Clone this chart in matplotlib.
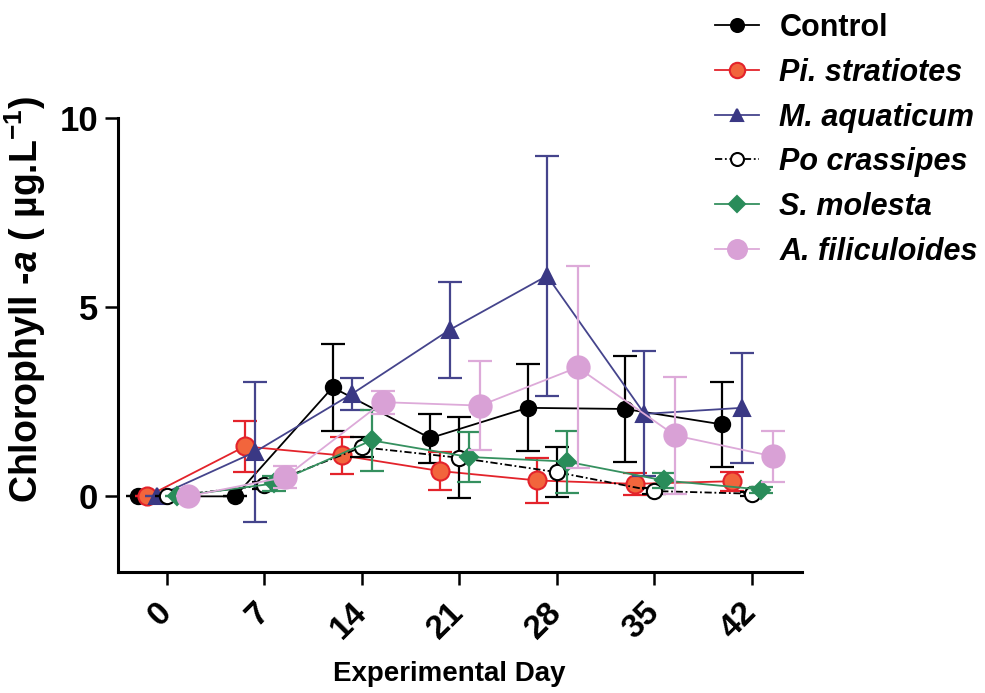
import matplotlib
matplotlib.use('Agg')
import matplotlib.pyplot as plt

# Chlorophyll-a over the experiment, one series per treatment
days = [0, 7, 14, 21, 28, 35, 42]
day_labels = ['0', '7', '14', '21', '28', '35', '42']

control = [0.0, 0.0, 2.88, 1.54, 2.34, 2.31, 1.90]
control_err = [0.0, 0.0, 1.15, 0.65, 1.15, 1.40, 1.13]

pi_strat = [0.0, 1.32, 1.08, 0.67, 0.42, 0.33, 0.40]
pi_strat_err = [0.0, 0.68, 0.48, 0.50, 0.60, 0.30, 0.25]

m_aqua = [0.0, 1.17, 2.71, 4.40, 5.83, 2.18, 2.34]
m_aqua_err = [0.0, 1.85, 0.42, 1.27, 3.17, 1.65, 1.45]

po_crass = [0.0, 0.29, 1.30, 1.02, 0.64, 0.14, 0.07]
po_crass_err = [0.0, 0.10, 0.26, 1.07, 0.67, 0.08, 0.05]

s_mol = [0.0, 0.34, 1.48, 1.04, 0.92, 0.42, 0.18]
s_mol_err = [0.0, 0.20, 0.80, 0.65, 0.82, 0.20, 0.08]

a_fili = [0.0, 0.51, 2.49, 2.40, 3.41, 1.61, 1.06]
a_fili_err = [0.0, 0.30, 0.30, 1.18, 2.67, 1.55, 0.67]

plt.rcParams['font.family'] = ['Liberation Sans', 'DejaVu Sans']
plt.rcParams['font.weight'] = 'bold'
plt.rcParams['mathtext.fontset'] = 'custom'
plt.rcParams['mathtext.rm'] = 'Liberation Sans:bold'
plt.rcParams['mathtext.it'] = 'Liberation Sans:italic:bold'
plt.rcParams['mathtext.bf'] = 'Liberation Sans:bold'

fig = plt.figure(figsize=(9.85, 6.93), dpi=100)
ax = fig.add_axes([0.12, 0.1746, 0.694, 0.655])

# (name, values, errors, x shift, marker, face, edge, line colour, linestyle, size)
series = [
    ('Control', control, control_err, -2.1, 'o', 'black', 'black', 'black', '-', 11),
    ('Pi. stratiotes', pi_strat, pi_strat_err, -1.4, 'o', '#f2653c', '#e3232b', '#e3232b', '-', 13),
    ('M. aquaticum', m_aqua, m_aqua_err, -0.7, '^', '#3a3884', '#3a3884', '#45448c', '-', 11),
    ('Po crassipes', po_crass, po_crass_err, 0.0, 'o', 'white', 'black', 'black', (0, (4, 1.5, 1, 1.5)), 11),
    ('S. molesta', s_mol, s_mol_err, 0.7, 'D', '#2a8c5a', '#2a8c5a', '#35905f', '-', 9),
    ('A. filiculoides', a_fili, a_fili_err, 1.5, 'o', '#d9a1d6', '#d9a1d6', '#ddaad9', '-', 16),
]

handles = []
for i, (name, vals, errs, dx, mk, fc, ec, lc, ls, ms) in enumerate(series):
    xs = [d + dx for d in days]
    ax.errorbar(xs, vals, yerr=errs, fmt='none', ecolor=lc, elinewidth=1.6,
                capsize=8.5, capthick=1.6, zorder=2 + i)
    h, = ax.plot(xs, vals, color=lc, linestyle=ls, linewidth=1.3, marker=mk,
                 markersize=ms, markerfacecolor=fc, markeredgecolor=ec,
                 markeredgewidth=1.5, zorder=3 + i, label=name)
    handles.append(h)

ax.set_xlim(-3.5, 45.6)
ax.set_ylim(-2, 10)
ax.set_xticks(days)
ax.set_xticklabels(day_labels, rotation=45, ha='right', va='center',
                   rotation_mode='anchor', fontsize=24, fontweight='bold')
ax.set_yticks([0, 5, 10])
ax.set_yticklabels(['0', '5', '10'], fontsize=25, fontweight='bold')

for side in ['top', 'right']:
    ax.spines[side].set_visible(False)
for side in ['left', 'bottom']:
    ax.spines[side].set_linewidth(2.2)
ax.tick_params(axis='both', direction='out', length=9.5, width=1.8)
ax.tick_params(axis='x', pad=16)
ax.tick_params(axis='y', pad=5)

ax.set_ylabel(r'Chlorophyll -$\it{a}$ ( µg.L$^{-1}$)', fontsize=27, fontweight='bold')
ax.yaxis.set_label_coords(-0.102, 0.6)
ax.set_xlabel('Experimental Day', fontsize=20, fontweight='bold')
ax.xaxis.set_label_coords(0.484, -0.196)

leg_styles = ['normal', 'italic', 'italic', 'italic', 'italic', 'italic']
leg = fig.legend(handles=handles, loc='upper left', bbox_to_anchor=(0.726, 0.981),
                 frameon=False, fontsize=22, borderpad=0, borderaxespad=0,
                 handlelength=1.45, handletextpad=0.65, labelspacing=0.48,
                 markerscale=0.85)
for t, st in zip(leg.get_texts(), leg_styles):
    t.set_fontstyle(st)
    t.set_fontweight('bold')

fig.savefig('out.png', dpi=100)
